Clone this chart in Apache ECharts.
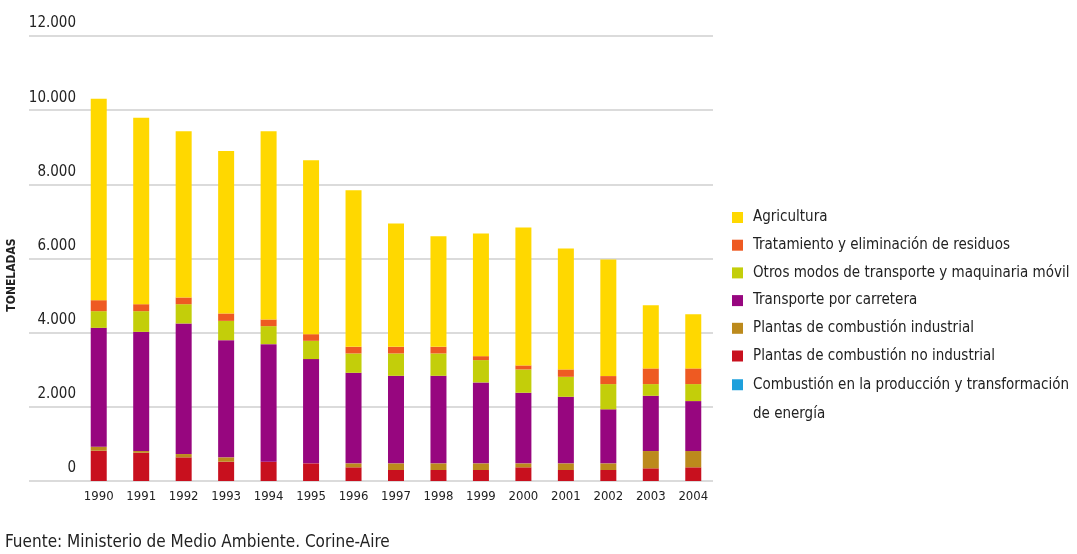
<!DOCTYPE html>
<html>
<head>
<meta charset="utf-8">
<script src="https://cdn.jsdelivr.net/npm/echarts@6/dist/echarts.min.js"></script>
<style>
html,body{margin:0;padding:0;background:#fff;}
#chart{width:1077px;height:554px;}
</style>
</head>
<body>
<div id="chart"></div>
<script>
var years = ['1990','1991','1992','1993','1994','1995','1996','1997','1998','1999','2000','2001','2002','2003','2004'];
var energia      = [0,0,0,0,0,0,0,0,0,0,0,0,0,0,0];
var noIndustrial = [816,762,638,520,520,476,369,296,296,296,369,296,296,342,369];
var industrial   = [108,46,89,118,0,0,107,180,180,180,107,180,180,466,439];
var carretera    = [3206,3214,3521,3160,3171,2811,2442,2361,2361,2182,1904,1795,1456,1490,1347];
var otrosModos   = [450,558,520,520,485,493,522,603,603,602,629,539,681,315,458];
var residuos     = [296,188,181,200,180,180,179,179,179,107,108,199,216,423,423];
var agricultura  = [5434,5030,4480,4380,5073,4688,4220,3323,2981,3306,3717,3260,3143,1705,1463];
var yTickLabels = ['0','2.000','4.000','6.000','8.000','10.000','12.000'];

var FONT = "'DejaVu Sans Condensed', 'Liberation Sans', sans-serif";
var TXT = '#222';

var names = {
  energia: 'Combustión en la producción y transformación de energía',
  noInd: 'Plantas de combustión no industrial',
  ind: 'Plantas de combustión industrial',
  carr: 'Transporte por carretera',
  otros: 'Otros modos de transporte y maquinaria móvil',
  res: 'Tratamiento y eliminación de residuos',
  agr: 'Agricultura'
};

function bar(name, data, color) {
  return {
    name: name, type: 'bar', stack: 'total', data: data,
    xAxisIndex: 1, yAxisIndex: 1, barWidth: 16,
    itemStyle: { color: color }, emphasis: { disabled: true }
  };
}

var chart = echarts.init(document.getElementById('chart'));
chart.setOption({
  animation: false,
  backgroundColor: '#fff',
  title: {
    text: 'Fuente: Ministerio de Medio Ambiente. Corine-Aire',
    left: 5, top: 534, padding: 0,
    textStyle: { fontFamily: FONT, fontSize: 17, fontWeight: 'normal', color: TXT }
  },
  grid: [
    { left: 29, right: 364, top: 36, bottom: 73, outerBoundsMode: 'none', containLabel: false },
    { left: 77.5, right: 362.5, top: 36, bottom: 73, outerBoundsMode: 'none', containLabel: false }
  ],
  legend: [
    {
      orient: 'vertical', left: 732, top: 208.5, padding: 0,
      itemWidth: 11, itemHeight: 11, itemGap: 9.7, icon: 'rect',
      selectedMode: false,
      textStyle: { fontFamily: FONT, fontSize: 15, lineHeight: 18, color: TXT, padding: [0,0,0,5] },
      data: [names.agr, names.res, names.otros, names.carr, names.ind, names.noInd]
    },
    {
      orient: 'vertical', left: 732, top: 340.5, padding: 0,
      itemWidth: 11, itemHeight: 11, icon: 'rect',
      selectedMode: false,
      formatter: function () { return '\nCombustión en la producción y transformación\nde energía'; },
      textStyle: { fontFamily: FONT, fontSize: 15, lineHeight: 29.5, color: TXT, padding: [0,0,0,5] },
      data: [names.energia]
    }
  ],
  xAxis: [
    { type: 'value', gridIndex: 0, min: 0, max: 1, show: false, splitLine: { show: false } },
    {
      type: 'category', gridIndex: 1, data: years,
      axisLine: { show: false }, axisTick: { show: false },
      axisLabel: { fontFamily: FONT, fontSize: 13, color: TXT, margin: 9, interval: 0 }
    }
  ],
  yAxis: [
    {
      type: 'value', gridIndex: 0, min: 0, max: 12000, interval: 2000,
      name: 'TONELADAS', nameLocation: 'middle', nameRotate: 90, nameGap: 5,
      nameTextStyle: { fontFamily: FONT, fontSize: 12, fontWeight: 'bold', color: TXT, padding: [0,33,0,0] },
      axisLine: { show: false }, axisTick: { show: false },
      splitLine: { lineStyle: { color: '#cfcfcf', width: 1.5 } },
      axisLabel: {
        inside: true, align: 'right', verticalAlign: 'bottom', margin: 47,
        padding: [0,0,5,0],
        fontFamily: FONT, fontSize: 15, color: TXT,
        formatter: function (v) { return yTickLabels[Math.round(v / 2000)]; }
      }
    },
    {
      type: 'value', gridIndex: 1, min: 0, max: 12000, interval: 2000, show: false,
      splitLine: { show: false }
    }
  ],
  series: [
    bar(names.energia, energia, '#1ea0dc'),
    bar(names.noInd, noIndustrial, '#c8101e'),
    bar(names.ind, industrial, '#bc8a1c'),
    bar(names.carr, carretera, '#97067f'),
    bar(names.otros, otrosModos, '#c3ce0a'),
    bar(names.res, residuos, '#ee5a22'),
    bar(names.agr, agricultura, '#ffd800')
  ]
});
</script>
</body>
</html>
